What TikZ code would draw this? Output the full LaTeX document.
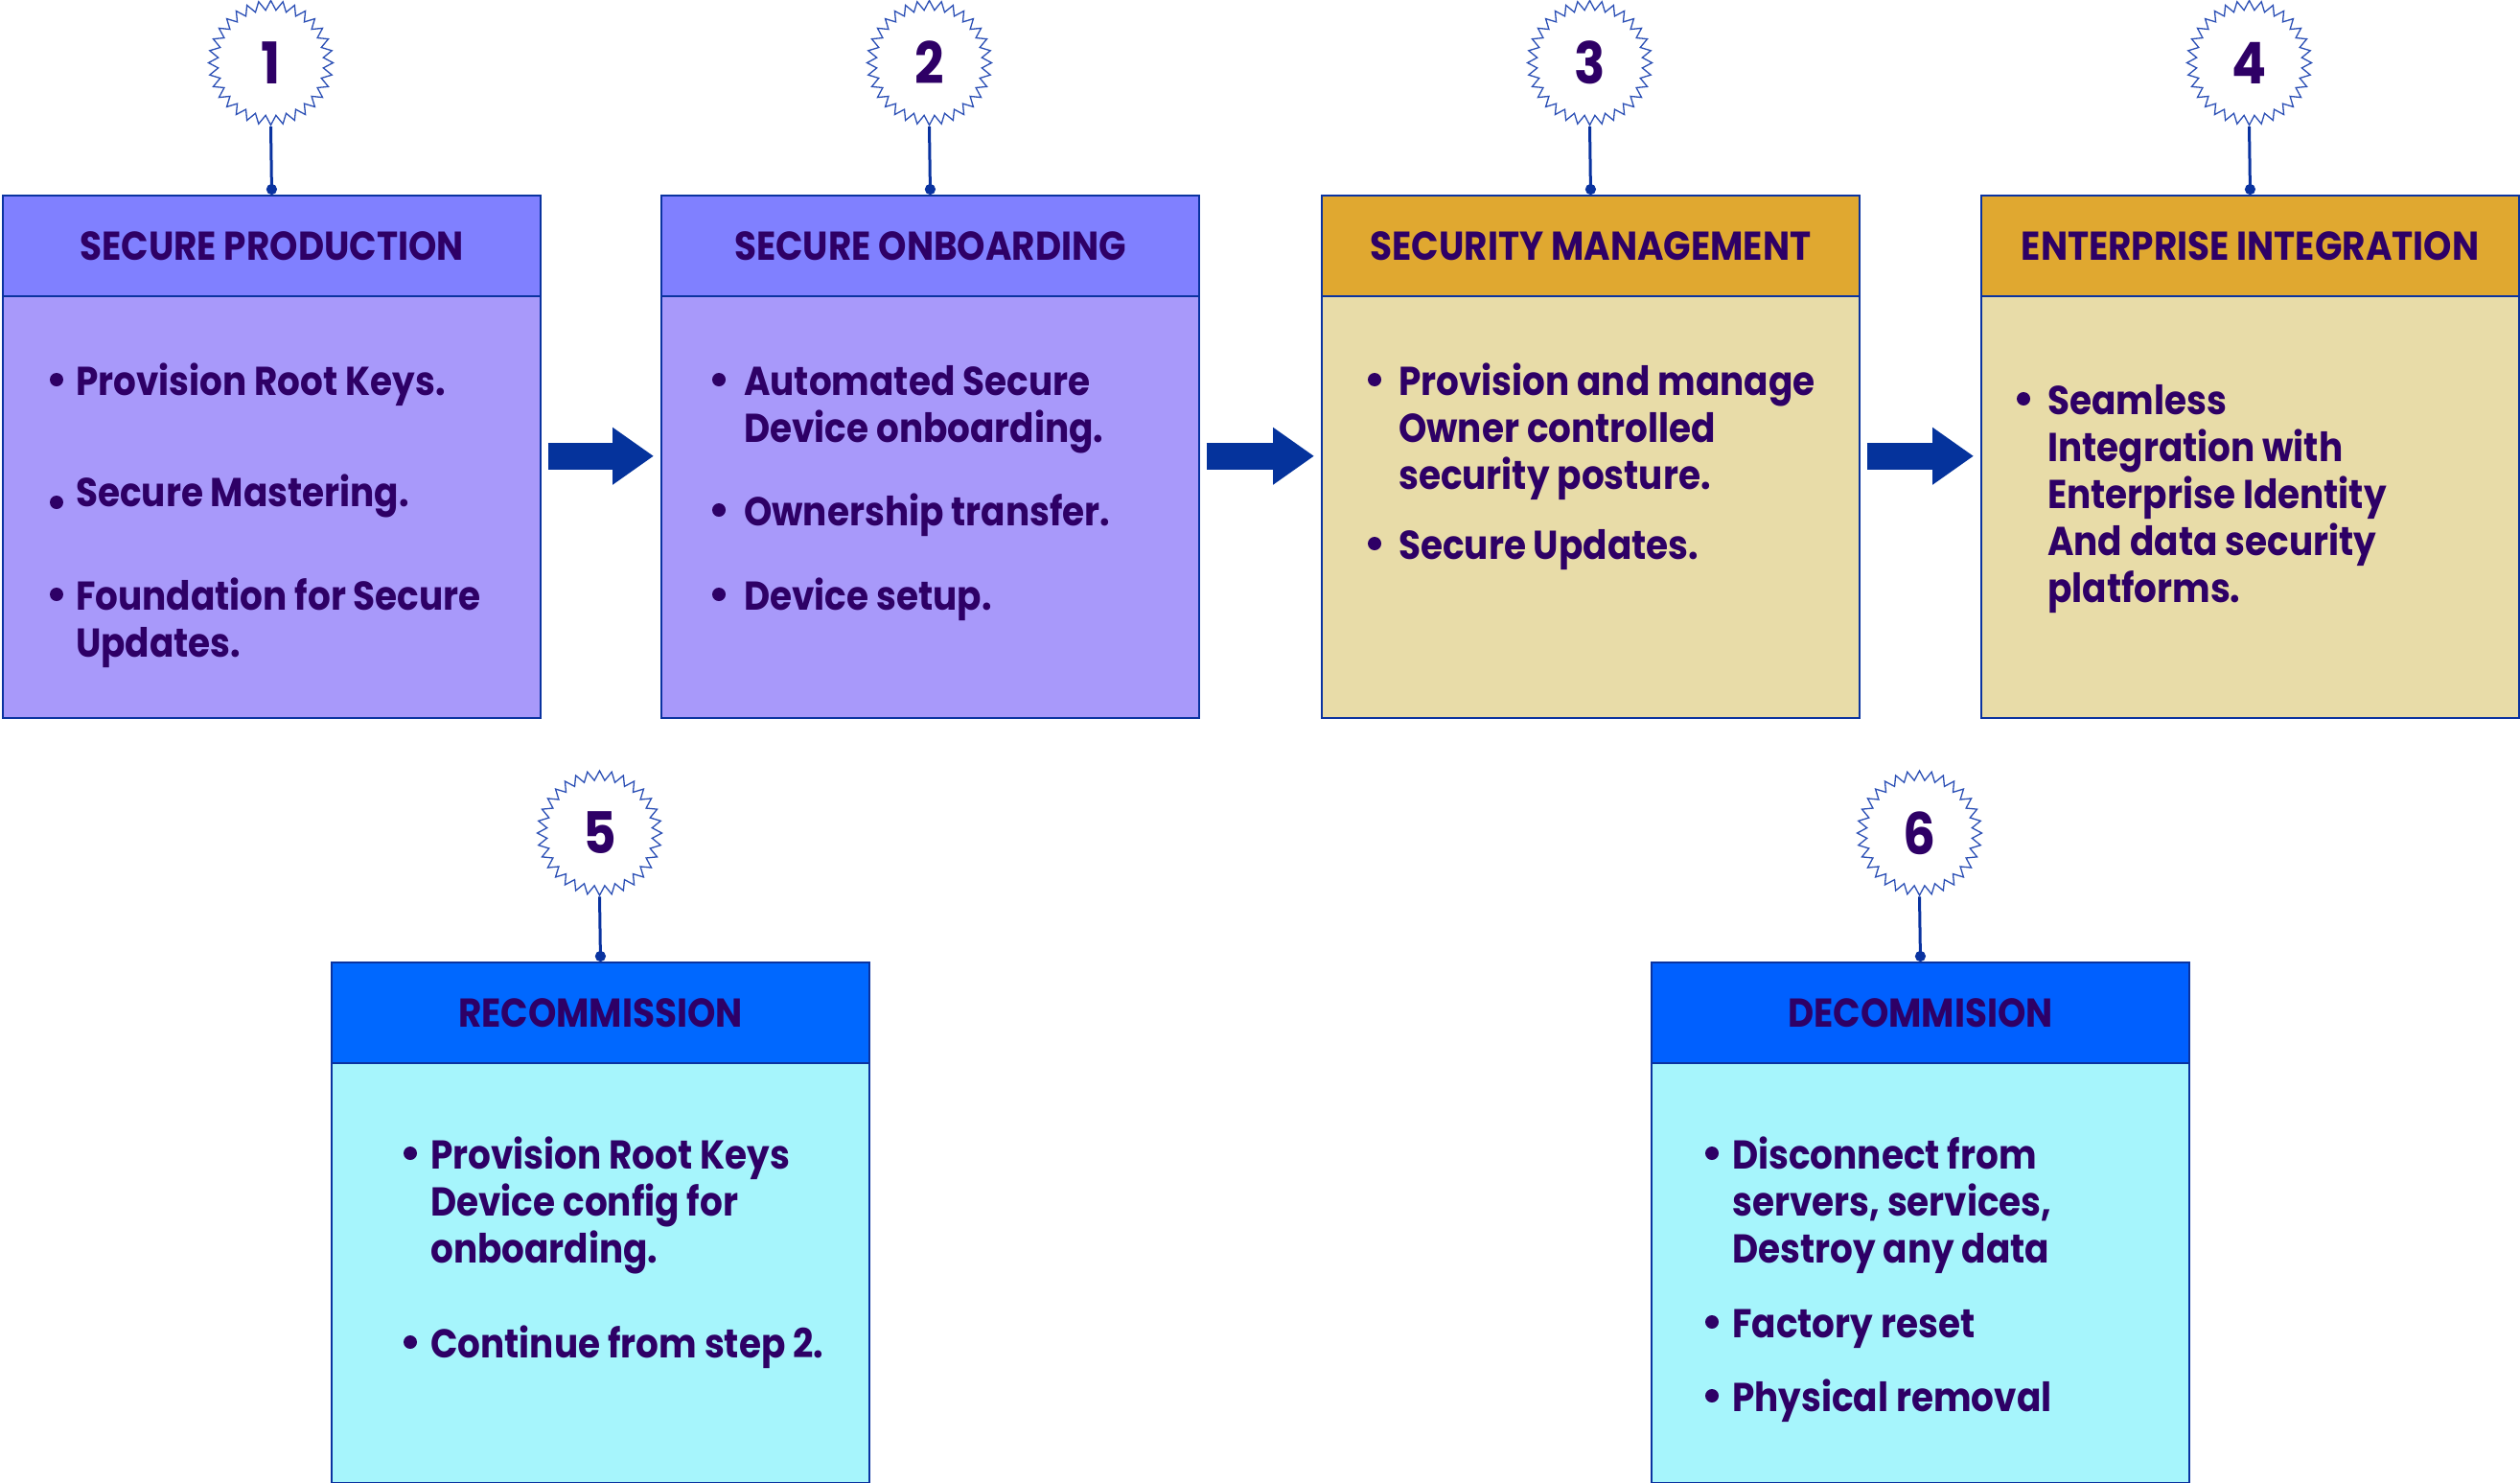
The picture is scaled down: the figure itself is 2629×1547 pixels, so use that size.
\documentclass[tikz,border=0pt]{standalone}
\usepackage{fontspec}
\setmainfont{Poppins}[FakeStretch=0.89]
\usetikzlibrary{shapes.geometric,arrows.meta}
\definecolor{txt}{HTML}{2E0066}
\definecolor{bord}{HTML}{0A33A0}
\definecolor{starc}{HTML}{2B4FB5}
\definecolor{arrc}{HTML}{05339C}
\definecolor{hdrA}{HTML}{8080FF}
\definecolor{bodyA}{HTML}{A899FA}
\definecolor{hdrB}{HTML}{E0A830}
\definecolor{bodyB}{HTML}{E8DCA8}
\definecolor{hdrC}{HTML}{0068FF}
\definecolor{hdrD}{HTML}{0060FF}
\definecolor{bodyC}{HTML}{A6F5FC}
\begin{document}
\begin{tikzpicture}[x=1pt,y=-1pt,
 hdr/.style={draw=bord, line width=2pt, minimum width=561pt, minimum height=105pt, inner sep=0pt, anchor=north west, font=\fontsize{42}{49}\selectfont\bfseries, text=txt},
 bodybox/.style={draw=bord, line width=1.5pt, minimum width=561pt, minimum height=#1, inner sep=0pt, anchor=north west},
 badge/.style={star, star points=32, star point ratio=1.18, minimum size=130pt, inner sep=0pt, draw=starc, line width=1.3pt, fill=white, font=\fontsize{60}{60}\selectfont\bfseries, text=txt},
 conn/.style={draw=bord, line width=3pt, -{Circle[length=11pt]}},
 blk/.style={draw=arrc, line width=28pt, -{Triangle[length=43pt,width=57pt]}},
 itm/.style={anchor=base west, inner sep=0pt, text=txt, font=\fontsize{42}{49}\selectfont\bfseries},
 dotc/.style={circle, fill=txt, inner sep=0pt, minimum size=14pt}
]
\useasboundingbox (0,0) rectangle (2629,1547);

% ---- boxes ----
\node[bodybox=440pt, fill=bodyA] (b1) at (2,308) {};
\node[hdr, fill=hdrA] (h1) at (2,203) {SECURE PRODUCTION};
\node[bodybox=440pt, fill=bodyA] (b2) at (689,308) {};
\node[hdr, fill=hdrA] (h2) at (689,203) {SECURE ONBOARDING};
\node[bodybox=440pt, fill=bodyB] (b3) at (1378,308) {};
\node[hdr, fill=hdrB] (h3) at (1378,203) {SECURITY MANAGEMENT};
\node[bodybox=440pt, fill=bodyB] (b4) at (2066,308) {};
\node[hdr, fill=hdrB] (h4) at (2066,203) {ENTERPRISE INTEGRATION};
\node[bodybox=438pt, fill=bodyC] (b5) at (345,1108) {};
\node[hdr, fill=hdrC] (h5) at (345,1003) {RECOMMISSION};
\node[bodybox=438pt, fill=bodyC] (b6) at (1722,1108) {};
\node[hdr, fill=hdrD] (h6) at (1722,1003) {DECOMMISION};

% ---- badges ----
\node[badge] (s1) at (282.5,65.5) {1};
\node[badge] (s2) at (969.5,65.5) {2};
\node[badge] (s3) at (1658.5,65.5) {3};
\node[badge] (s4) at (2346.5,65.5) {4};
\node[badge] (s5) at (625.5,869) {5};
\node[badge] (s6) at (2002.5,869) {6};
\foreach \i in {1,...,6} {\draw[conn] (s\i.south) -- (h\i.north);}

% ---- block arrows ----
\draw[blk] ([xshift=7pt,yshift=53pt]b1.east) -- ([xshift=-7pt,yshift=53pt]b2.west);
\draw[blk] ([xshift=7pt,yshift=53pt]b2.east) -- ([xshift=-7pt,yshift=53pt]b3.west);
\draw[blk] ([xshift=7pt,yshift=53pt]b3.east) -- ([xshift=-7pt,yshift=53pt]b4.west);

% ---- box 1 ----
\node[dotc] (d11) at (59,396) {};
\node[itm] (t11) at (79,412) {Provision Root Keys.};
\node[dotc] (d12) at (59,524) {};
\node[itm] (t12) at (79,528) {Secure Mastering.};
\node[dotc] (d13) at (59,620) {};
\node[itm] (t13) at (79,636) {\parbox[t]{800pt}{\raggedright Foundation for Secure\\Updates.}};

% ---- box 2 ----
\node[dotc] (d21) at (750,396) {};
\node[itm] (t21) at (776,412) {\parbox[t]{800pt}{\raggedright Automated Secure\\Device onboarding.}};
\node[dotc] (d22) at (750,532) {};
\node[itm] (t22) at (776,548) {Ownership transfer.};
\node[dotc] (d23) at (750,620) {};
\node[itm] (t23) at (776,636) {Device setup.};

% ---- box 3 ----
\node[dotc] (d31) at (1434,396) {};
\node[itm] (t31) at (1459,412) {\parbox[t]{800pt}{\raggedright Provision and manage\\Owner controlled\\security posture.}};
\node[dotc] (d32) at (1434,567) {};
\node[itm] (t32) at (1459,583) {Secure Updates.};

% ---- box 4 ----
\node[dotc] (d41) at (2111,416) {};
\node[itm] (t41) at (2136,432) {\parbox[t]{800pt}{\raggedright Seamless\\Integration with\\Enterprise Identity\\And data security\\platforms.}};

% ---- box 5 ----
\node[dotc] (d51) at (428,1203) {};
\node[itm] (t51) at (449,1219) {\parbox[t]{800pt}{\raggedright Provision Root Keys\\Device config for\\onboarding.}};
\node[dotc] (d52) at (428,1400) {};
\node[itm] (t52) at (449,1416) {Continue from step 2.};

% ---- box 6 ----
\node[dotc] (d61) at (1786,1203) {};
\node[itm] (t61) at (1807,1219) {\parbox[t]{800pt}{\raggedright Disconnect from\\servers, services,\\Destroy any data}};
\node[dotc] (d62) at (1786,1379) {};
\node[itm] (t62) at (1807,1395) {Factory reset};
\node[dotc] (d63) at (1786,1456) {};
\node[itm] (t63) at (1807,1472) {Physical removal};
\end{tikzpicture}
\end{document}
